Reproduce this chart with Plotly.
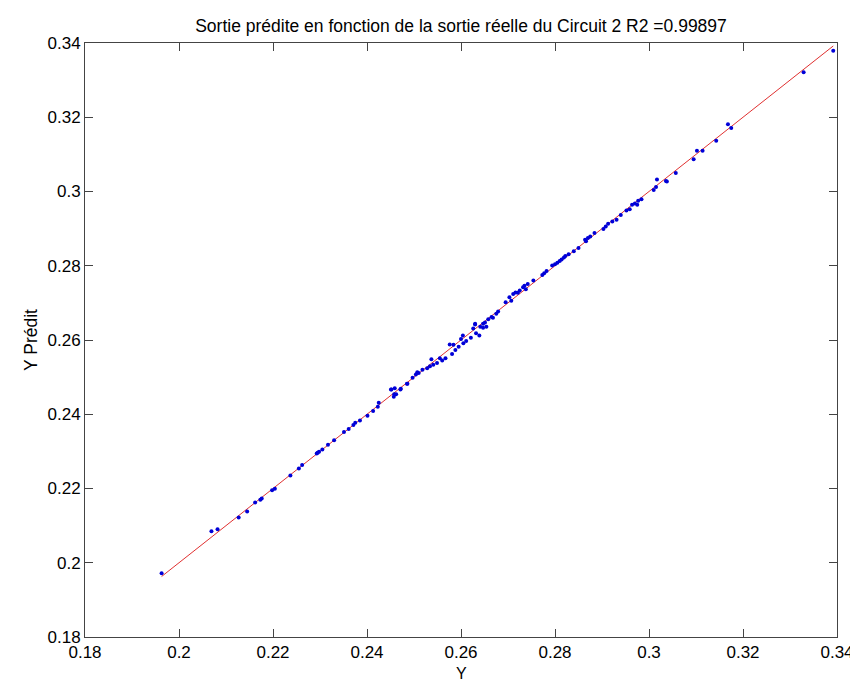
import plotly.graph_objects as go

y_reel = [
    0.1963, 0.2069, 0.2082, 0.2127, 0.2145, 0.2162, 0.2173, 0.2176, 0.2198, 0.2204,
    0.2237, 0.2255, 0.2262, 0.2293, 0.2295, 0.2298, 0.2305, 0.2317, 0.2330, 0.2351,
    0.2361, 0.2371, 0.2375, 0.2385, 0.2401, 0.2413, 0.2423, 0.2425, 0.2451, 0.2452,
    0.2457, 0.2458, 0.2459, 0.2462, 0.2471, 0.2472, 0.2485, 0.2486, 0.2497, 0.2504,
    0.2507, 0.2510, 0.2518, 0.2528, 0.2534, 0.2537, 0.2541, 0.2549, 0.2555, 0.2560,
    0.2567, 0.2576, 0.2581, 0.2584, 0.2588, 0.2595, 0.2600, 0.2604, 0.2605, 0.2611,
    0.2621, 0.2626, 0.2630, 0.2630, 0.2632, 0.2639, 0.2641, 0.2647, 0.2647, 0.2651,
    0.2654, 0.2658, 0.2665, 0.2668, 0.2675, 0.2679, 0.2695, 0.2703, 0.2707, 0.2711,
    0.2716, 0.2721, 0.2725, 0.2732, 0.2735, 0.2738, 0.2742, 0.2754, 0.2773, 0.2777,
    0.2782, 0.2794, 0.2800, 0.2805, 0.2810, 0.2814, 0.2819, 0.2822, 0.2829, 0.2840,
    0.2850, 0.2864, 0.2866, 0.2870, 0.2875, 0.2884, 0.2903, 0.2908, 0.2913, 0.2922,
    0.2931, 0.2940, 0.2952, 0.2959, 0.2964, 0.2970, 0.2975, 0.2977, 0.2984, 0.3010,
    0.3015, 0.3017, 0.3036, 0.3038, 0.3057, 0.3095, 0.3102, 0.3114, 0.3143, 0.3168,
    0.3175, 0.3329, 0.3392,
]
y_predit = [
    0.1972, 0.2085, 0.2090, 0.2122, 0.2138, 0.2162, 0.2170, 0.2173, 0.2195, 0.2199,
    0.2235, 0.2254, 0.2263, 0.2294, 0.2296, 0.2299, 0.2305, 0.2318, 0.2330, 0.2352,
    0.2360, 0.2371, 0.2377, 0.2383, 0.2396, 0.2409, 0.2420, 0.2431, 0.2467, 0.2467,
    0.2447, 0.2454, 0.2470, 0.2454, 0.2467, 0.2469, 0.2482, 0.2482, 0.2498, 0.2507,
    0.2513, 0.2511, 0.2520, 0.2524, 0.2529, 0.2548, 0.2533, 0.2538, 0.2551, 0.2545,
    0.2551, 0.2588, 0.2562, 0.2587, 0.2573, 0.2582, 0.2603, 0.2612, 0.2591, 0.2597,
    0.2606, 0.2631, 0.2642, 0.2644, 0.2618, 0.2612, 0.2636, 0.2633, 0.2644, 0.2647,
    0.2636, 0.2656, 0.2662, 0.2660, 0.2671, 0.2677, 0.2702, 0.2715, 0.2706, 0.2724,
    0.2728, 0.2727, 0.2733, 0.2742, 0.2746, 0.2737, 0.2751, 0.2760, 0.2775, 0.2780,
    0.2786, 0.2801, 0.2804, 0.2808, 0.2813, 0.2817, 0.2822, 0.2826, 0.2831, 0.2839,
    0.2848, 0.2870, 0.2866, 0.2875, 0.2879, 0.2888, 0.2899, 0.2906, 0.2913, 0.2919,
    0.2924, 0.2937, 0.2949, 0.2952, 0.2964, 0.2968, 0.2964, 0.2975, 0.2979, 0.3004,
    0.3012, 0.3032, 0.3028, 0.3027, 0.3050, 0.3087, 0.3110, 0.3110, 0.3137, 0.3181,
    0.3171, 0.3321, 0.3379,
]

# Fit line endpoints (y = x over the data span)
ligne_x = [min(y_reel), max(y_reel)]
ligne_y = [min(y_reel), max(y_reel)]

tick_vals = [0.18, 0.20, 0.22, 0.24, 0.26, 0.28, 0.30, 0.32, 0.34]
tick_text = ["0.18", "0.2", "0.22", "0.24", "0.26", "0.28", "0.3", "0.32", "0.34"]

titre = "Sortie prédite en fonction de la sortie réelle du Circuit 2 R2 =0.99897"
titre_x = "Y"
titre_y = "Y Prédit"
police = "Liberation Sans, Arial, sans-serif"

fig = go.Figure()
fig.add_trace(go.Scatter(
    x=ligne_x, y=ligne_y, mode="lines",
    line=dict(color="#e03030", width=1), showlegend=False, hoverinfo="skip"))
fig.add_trace(go.Scatter(
    x=y_reel, y=y_predit, mode="markers",
    marker=dict(color="#0000d8", size=4, symbol="circle"), showlegend=False))

axis_common = dict(
    range=[0.18, 0.34], tickvals=tick_vals, ticktext=tick_text,
    ticks="inside", ticklen=8, tickwidth=1, tickcolor="#444444",
    showline=True, linecolor="#444444", linewidth=1, mirror="ticks",
    showgrid=False, zeroline=False,
    tickfont=dict(family=police, size=17, color="black"),
)

MT, MB = 35, 54
plot_h = 683 - MT - MB

fig.update_layout(
    width=858, height=683,
    margin=dict(l=77, r=20, t=MT, b=MB),
    paper_bgcolor="white", plot_bgcolor="white",
    title=dict(text=titre, xref="paper", x=0.5, xanchor="center",
               yref="container", y=1 - 17.5 / 683, yanchor="middle",
               font=dict(family=police, size=17.5, color="black")),
    xaxis=dict(**axis_common),
    yaxis=dict(**axis_common,
               title=dict(text=titre_y, standoff=5,
                          font=dict(family=police, size=17.5, color="black"))),
    annotations=[dict(text=titre_x, xref="paper", yref="paper",
                      x=0.5, y=-(MB - 8.0) / plot_h, xanchor="center", yanchor="bottom",
                      showarrow=False, borderpad=0,
                      font=dict(family=police, size=16, color="black"))],
)

fig.write_html("out.html")
